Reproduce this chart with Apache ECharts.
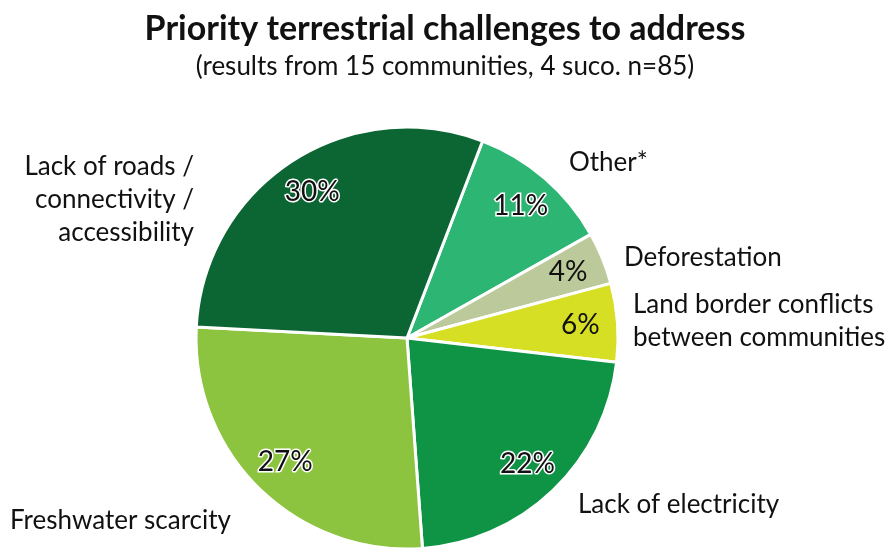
<!DOCTYPE html>
<html>
<head>
<meta charset="utf-8">
<script src="https://cdn.jsdelivr.net/npm/echarts@6/dist/echarts.min.js"></script>
<style>
  html, body { margin: 0; padding: 0; background: #fff; }
  #chart { width: 890px; height: 553px; }
</style>
</head>
<body>
<div id="chart"></div>
<script>
// Survey shares, listed clockwise from the "Other*" wedge
const categories = [
  'Other*',
  'Deforestation',
  'Land border conflicts\nbetween communities',
  'Lack of electricity',
  'Freshwater scarcity',
  'Lack of roads /\nconnectivity /\naccessibility'
];
const shares = [11, 4, 6, 22, 27, 30];
const sliceColors = ['#2db574', '#bcc99b', '#d7df24', '#0f9446', '#8cc43f', '#0b6634'];
// Small wedges get plain percentage text, large ones an outlined label
const outlinedPct = [true, false, false, true, true, true];

const FONT = 'Lato, "Open Sans", sans-serif';
const CENTER = [407, 338];
const R = 211;

// Where each category name sits around the pie
const namePlacement = [
  { x: 569, y: 163, align: 'left' },
  { x: 624, y: 258, align: 'left' },
  { x: 633, y: 321, align: 'left' },
  { x: 578, y: 505, align: 'left' },
  { x: 10,  y: 521, align: 'left' },
  { x: 194, y: 200, align: 'right' }
];

const chart = echarts.init(document.getElementById('chart'), null, { renderer: 'canvas' });

const wedgeData = categories.map((c, i) => ({
  name: c, value: shares[i], itemStyle: { color: sliceColors[i] }
}));

const pctData = categories.map((c, i) => ({
  name: c, value: shares[i],
  label: outlinedPct[i]
    ? { textBorderColor: '#ffffff', textBorderWidth: 3 }
    : { textBorderWidth: 0 }
}));

const nameData = categories.map((c, i) => ({ name: c, value: shares[i] }));

chart.setOption({
  backgroundColor: '#ffffff',
  animation: false,
  title: {
    text: 'Priority terrestrial challenges to address',
    subtext: '(results from 15 communities, 4 suco. n=85)',
    left: 'center',
    top: 7,
    itemGap: 8,
    textStyle: { fontFamily: FONT, fontSize: 34, fontWeight: 'bold', color: '#111' },
    subtextStyle: { fontFamily: FONT, fontSize: 26, color: '#111' }
  },
  series: [
    {
      type: 'pie',
      center: CENTER,
      radius: [0, R],
      startAngle: 69,
      clockwise: true,
      silent: true,
      label: { show: false },
      labelLine: { show: false },
      itemStyle: { borderColor: '#ffffff', borderWidth: 3 },
      data: wedgeData
    },
    {
      // percentage labels placed on a ring near the outer edge
      type: 'pie',
      center: CENTER,
      radius: [R * 0.62, R],
      startAngle: 69,
      clockwise: true,
      silent: true,
      itemStyle: { color: 'transparent' },
      labelLine: { show: false },
      label: {
        show: true,
        position: 'inside',
        formatter: '{c}%',
        fontFamily: FONT,
        fontSize: 28,
        color: '#111'
      },
      data: pctData
    },
    {
      // category names outside the pie
      type: 'pie',
      center: CENTER,
      radius: [0, R],
      startAngle: 69,
      clockwise: true,
      silent: true,
      itemStyle: { color: 'transparent' },
      labelLine: { show: false },
      label: {
        show: true,
        position: 'outside',
        alignTo: 'none',
        overflow: 'none',
        formatter: '{b}',
        fontFamily: FONT,
        fontSize: 26,
        lineHeight: 33,
        color: '#111'
      },
      labelLayout: function (params) {
        const p = namePlacement[params.dataIndex];
        return { x: p.x, y: p.y, align: p.align, verticalAlign: 'middle', hideOverlap: false, moveOverlap: null };
      },
      data: nameData
    }
  ]
});
</script>
</body>
</html>
